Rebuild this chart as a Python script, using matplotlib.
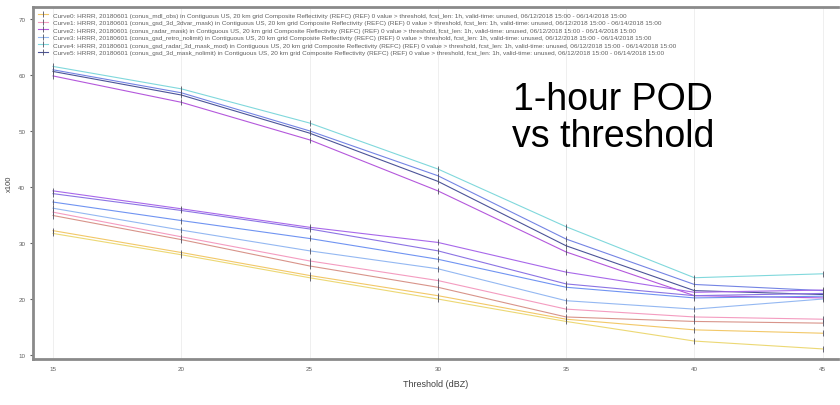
#!/usr/bin/env python3
"""Recreate the 1-hour POD vs threshold chart."""

import matplotlib

matplotlib.use("Agg")
import matplotlib.pyplot as plt

plt.rcParams["font.family"] = ["Liberation Sans", "DejaVu Sans"]

thresholds = [15, 20, 25, 30, 35, 40, 45]
x_ticks = [15, 20, 25, 30, 35, 40, 45]
y_ticks = [10, 20, 30, 40, 50, 60, 70]

# upper group
pod_cyan = [61.5, 57.5, 51.4, 43.2, 32.9, 23.8, 24.5]
pod_blue = [60.9, 56.8, 50.0, 42.0, 30.7, 22.6, 21.5]
pod_navy = [60.6, 56.4, 49.6, 41.0, 29.5, 21.5, 20.8]
pod_magenta = [59.8, 55.1, 48.4, 39.3, 28.4, 20.6, 20.2]
# lower group
pod_purple = [39.3, 36.1, 32.8, 30.1, 24.8, 21.2, 21.6]
pod_violet = [38.8, 35.8, 32.5, 28.6, 22.7, 20.6, 21.0]
pod_blue2 = [37.3, 34.0, 30.8, 27.1, 22.1, 20.2, 20.5]
pod_lightblue = [36.2, 32.3, 28.6, 25.4, 19.7, 18.2, 20.0]
pod_pink = [35.5, 31.1, 26.8, 23.3, 18.2, 16.8, 16.4]
pod_red = [34.9, 30.6, 25.9, 22.1, 16.8, 16.0, 15.7]
pod_orange = [32.2, 28.3, 24.2, 20.6, 16.4, 14.5, 13.9]
pod_yellow = [31.7, 27.9, 23.8, 20.0, 16.0, 12.5, 11.1]

legend_labels = [
    "Curve0: HRRR, 20180601 (conus_mdl_obs) in Contiguous US, 20 km grid Composite Reflectivity (REFC) (REF) 0 value > threshold, fcst_len: 1h, valid-time: unused, 06/12/2018 15:00 - 06/14/2018 15:00",
    "Curve1: HRRR, 20180601 (conus_gsd_3d_3dvar_mask) in Contiguous US, 20 km grid Composite Reflectivity (REFC) (REF) 0 value > threshold, fcst_len: 1h, valid-time: unused, 06/12/2018 15:00 - 06/14/2018 15:00",
    "Curve2: HRRR, 20180601 (conus_radar_mask) in Contiguous US, 20 km grid Composite Reflectivity (REFC) (REF) 0 value > threshold, fcst_len: 1h, valid-time: unused, 06/12/2018 15:00 - 06/14/2018 15:00",
    "Curve3: HRRR, 20180601 (conus_gsd_retro_nolimit) in Contiguous US, 20 km grid Composite Reflectivity (REFC) (REF) 0 value > threshold, fcst_len: 1h, valid-time: unused, 06/12/2018 15:00 - 06/14/2018 15:00",
    "Curve4: HRRR, 20180601 (conus_gsd_radar_3d_mask_mod) in Contiguous US, 20 km grid Composite Reflectivity (REFC) (REF) 0 value > threshold, fcst_len: 1h, valid-time: unused, 06/12/2018 15:00 - 06/14/2018 15:00",
    "Curve5: HRRR, 20180601 (conus_gsd_3d_mask_nolimit) in Contiguous US, 20 km grid Composite Reflectivity (REFC) (REF) 0 value > threshold, fcst_len: 1h, valid-time: unused, 06/12/2018 15:00 - 06/14/2018 15:00",
]

series = [
    (pod_orange, "#f2c868", 0),
    (pod_pink, "#f49cc0", 1),
    (pod_magenta, "#b458dc", 2),
    (pod_lightblue, "#94b8f2", 3),
    (pod_cyan, "#80d8dc", 4),
    (pod_navy, "#4c5498", 5),
    (pod_blue, "#7484e4", None),
    (pod_purple, "#a868ea", None),
    (pod_violet, "#8c74e4", None),
    (pod_blue2, "#7094f2", None),
    (pod_red, "#d8948a", None),
    (pod_yellow, "#ecd874", None),
]

fig = plt.figure(figsize=(8.4, 4.06), dpi=100)
ax = fig.add_axes([33 / 840, 46 / 406, 805 / 840, 352 / 406])

for values, color, idx in series:
    label = legend_labels[idx] if idx is not None else "_nolegend_"
    ax.plot(
        thresholds,
        values,
        color=color,
        linewidth=0.8,
        marker="|",
        markersize=4,
        markeredgecolor="#505060",
        markeredgewidth=0.6,
        label=label,
    )

ax.set_xlim(14.22, 45.6)
ax.set_ylim(9.3, 72.1)
ax.set_xticks(x_ticks)
ax.set_yticks(y_ticks)
ax.tick_params(axis="both", labelsize=4.5, colors="#606060", length=2)
ax.tick_params(axis="x", length=0, pad=5)
ax.grid(axis="x", color="#ececec", linewidth=0.6)

for side in ("left", "bottom", "top"):
    ax.spines[side].set_color("#8a8a8a")
    ax.spines[side].set_linewidth(2)
ax.spines["right"].set_visible(False)

ax.set_xlabel("Threshold (dBZ)", fontsize=6.5, color="#404040", labelpad=6)
ax.set_ylabel("x100", fontsize=5.5, color="#404040", labelpad=4)

handles, labels = ax.get_legend_handles_labels()
ax.legend(
    handles,
    labels,
    loc="upper left",
    fontsize=4.6,
    frameon=False,
    handlelength=1.6,
    handletextpad=0.8,
    labelspacing=0.32,
    borderaxespad=0.4,
    labelcolor="#606060",
)

fig.text(613 / 840, 1 - 110 / 406, "1-hour POD", fontsize=27,
         ha="center", va="baseline", color="black")
fig.text(613 / 840, 1 - 147 / 406, "vs threshold", fontsize=27,
         ha="center", va="baseline", color="black")

fig.savefig("out.png", dpi=100)
